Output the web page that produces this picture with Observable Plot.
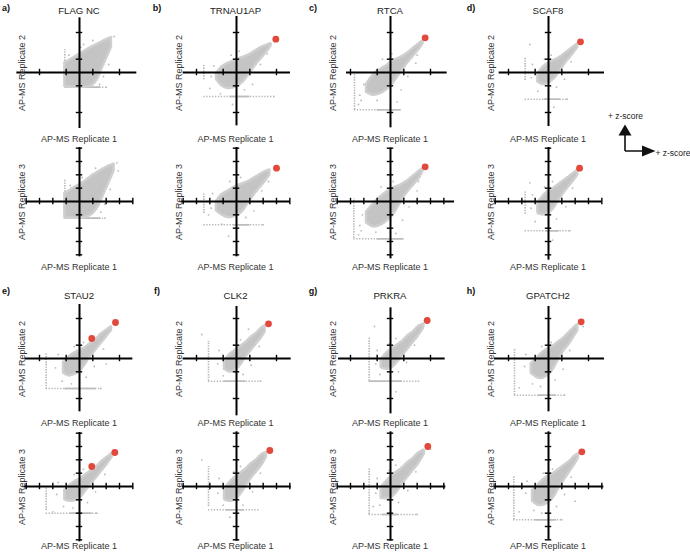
<!DOCTYPE html>
<html><head><meta charset="utf-8">
<script src="https://cdn.jsdelivr.net/npm/d3@7"></script>
<script src="https://cdn.jsdelivr.net/npm/@observablehq/plot@0.6"></script>
<style>
body{margin:0;background:#fff;}
#fig{position:relative;width:690px;height:554px;font-family:"Liberation Sans",Arial,Helvetica,sans-serif;overflow:hidden;background:#fff;}
.t{position:absolute;white-space:nowrap;color:#222;line-height:1;transform:translate(-50%,-50%);}
.panel{position:absolute;}
</style></head><body><div id="fig"></div>
<script>
// ---- labels ----
const proteins = ["FLAG NC","TRNAU1AP","RTCA","SCAF8","STAU2","CLK2","PRKRA","GPATCH2"];
const letters = ["a)","b)","c)","d)","e)","f)","g)","h)"];
const yAxisLabels = ["AP-MS Replicate 2","AP-MS Replicate 3"];
const xAxisLabel = "AP-MS Replicate 1";
const legendLabel = "+ z-score";
// ---- ticks (z-score units) ----
const ticksRep2 = [-3,-1,1,3];
const ticksRep3 = [-4,-3,-2,-1,1,2,3,4];
// panel order: a-rep2, a-rep3, b-rep2, b-rep3, ... h-rep3
// axis extents [xmin, xmax, ymin, ymax]
const axisExtents = [
 [-4.7,4.3,-4.2,4.1],[-4.0,4.05,-4.15,4.05],
 [-4.0,4.05,-4.0,4.2],[-4.15,4.05,-4.15,4.05],
 [-3.3,4.25,-4.15,4.2],[-4.0,4.8,-4.3,4.0],
 [-3.7,4.2,-4.05,4.2],[-4.05,4.0,-4.4,4.05],
 [-4.1,4.0,-4.0,4.05],[-4.15,4.05,-4.15,4.05],
 [-4.0,4.1,-4.3,3.9],[-4.05,4.1,-4.1,4.1],
 [-3.9,4.1,-4.15,3.8],[-3.95,4.15,-4.1,4.1],
 [-4.05,4.2,-4.0,3.9],[-4.1,4.15,-4.0,4.1]
];
// dense cloud outline: [x, lower y, upper y]
const cloudBands = [
 [[-1.1,-1.1,0.7],[-0.6,-1.1,1.0],[-0.1,-1.1,1.3],[0.4,-1.1,1.6],[0.9,-1.0,1.9],[1.3,-0.6,2.1],[1.7,0.3,2.3],[2.1,1.2,2.5],[2.4,1.9,2.6]],
 [[-1.1,-1.25,0.6],[-0.6,-1.25,0.9],[-0.1,-1.25,1.2],[0.4,-1.2,1.5],[0.9,-1.0,1.9],[1.4,-0.4,2.2],[1.9,0.7,2.5],[2.3,1.6,2.7],[2.6,2.3,2.8]],
 [[-1.5,-0.5,-0.1],[-1.1,-1.0,0.4],[-0.6,-1.2,0.7],[-0.1,-1.1,0.9],[0.4,-0.8,1.1],[0.9,-0.2,1.3],[1.4,0.5,1.6],[1.9,1.1,1.9],[2.4,1.7,2.1],[2.6,2.0,2.2]],
 [[-1.5,-0.7,0.0],[-1.1,-1.0,0.5],[-0.6,-1.2,0.8],[-0.1,-1.1,1.1],[0.4,-0.8,1.3],[0.9,-0.1,1.5],[1.4,0.6,1.8],[1.9,1.2,2.1],[2.3,1.7,2.3],[2.5,2.0,2.35]],
 [[-1.8,-1.5,-0.9],[-1.3,-1.7,-0.2],[-0.8,-1.6,0.2],[-0.3,-1.3,0.5],[0.2,-0.8,0.9],[0.7,-0.1,1.1],[1.2,0.6,1.4],[1.7,1.2,1.8],[2.2,1.8,2.2],[2.45,2.2,2.4]],
 [[-1.8,-1.6,-0.8],[-1.3,-1.9,-0.2],[-0.8,-1.8,0.3],[-0.3,-1.5,0.7],[0.2,-1.0,1.0],[0.7,-0.2,1.2],[1.2,0.6,1.5],[1.7,1.2,1.9],[2.2,1.8,2.3],[2.45,2.3,2.5]],
 [[-0.8,-0.7,-0.1],[-0.4,-0.9,0.4],[0.0,-0.8,0.7],[0.4,-0.5,0.9],[0.8,0.0,1.1],[1.2,0.6,1.4],[1.6,1.1,1.7],[2.0,1.6,2.0],[2.2,1.9,2.15]],
 [[-0.8,-0.9,-0.1],[-0.4,-1.0,0.4],[0.0,-0.9,0.8],[0.4,-0.5,1.0],[0.8,0.1,1.3],[1.2,0.7,1.6],[1.6,1.2,1.9],[2.0,1.7,2.2],[2.2,2.0,2.35]],
 [[-1.2,-1.1,-0.3],[-0.8,-1.3,0.1],[-0.4,-1.2,0.4],[0.0,-1.0,0.6],[0.4,-0.5,0.8],[0.8,0.1,1.1],[1.2,0.6,1.4],[1.6,1.1,1.8],[2.0,1.6,2.1],[2.4,2.1,2.4]],
 [[-1.1,-1.0,-0.3],[-0.7,-1.1,0.1],[-0.3,-1.05,0.4],[0.1,-0.8,0.6],[0.5,-0.3,0.9],[0.9,0.2,1.2],[1.3,0.7,1.5],[1.7,1.2,1.9],[2.1,1.7,2.2],[2.45,2.2,2.5]],
 [[-0.9,-0.8,-0.2],[-0.5,-1.0,0.3],[-0.1,-0.9,0.6],[0.3,-0.5,0.9],[0.7,0.1,1.2],[1.1,0.6,1.6],[1.5,1.1,1.9],[1.9,1.6,2.3],[2.15,2.0,2.45]],
 [[-0.9,-1.0,-0.2],[-0.5,-1.1,0.3],[-0.1,-1.0,0.7],[0.3,-0.6,1.0],[0.7,0.0,1.3],[1.1,0.6,1.7],[1.5,1.1,2.0],[1.9,1.6,2.4],[2.25,2.2,2.55]],
 [[-0.7,-0.7,-0.1],[-0.3,-0.8,0.4],[0.1,-0.7,0.7],[0.5,-0.3,1.0],[0.9,0.2,1.3],[1.3,0.7,1.7],[1.7,1.2,2.0],[2.1,1.7,2.4],[2.5,2.3,2.6]],
 [[-0.7,-0.9,-0.1],[-0.3,-0.9,0.4],[0.1,-0.8,0.8],[0.5,-0.4,1.1],[0.9,0.2,1.4],[1.3,0.7,1.8],[1.7,1.2,2.1],[2.1,1.7,2.5],[2.55,2.45,2.75]],
 [[-1.3,-1.1,-0.4],[-0.9,-1.4,0.0],[-0.5,-1.5,0.4],[-0.1,-1.3,0.7],[0.3,-0.9,0.9],[0.7,-0.2,1.2],[1.1,0.5,1.5],[1.5,1.0,1.9],[1.9,1.6,2.3],[2.2,2.1,2.55]],
 [[-1.2,-1.1,-0.3],[-0.8,-1.4,0.1],[-0.4,-1.4,0.5],[0.0,-1.2,0.8],[0.4,-0.8,1.0],[0.8,-0.1,1.3],[1.2,0.5,1.6],[1.6,1.1,1.9],[2.0,1.7,2.3],[2.25,2.15,2.45]]
];
// sparse preys outside the dense cloud: [x, y]
const sparsePoints = [
 [[-0.8,1.3],[0.1,1.9],[1.0,2.4],[2.6,2.7],[1.8,-0.3],[1.5,-0.9],[2.2,0.6],[-0.4,-0.8],[0.6,-0.5],[2.0,-1.1],[0.3,2.1]],
 [[-0.7,1.2],[0.2,1.8],[1.2,2.5],[2.8,2.9],[1.9,-0.2],[1.6,-0.8],[2.3,0.9],[-0.3,-0.9],[0.7,-0.6],[1.9,-1.25],[2.9,2.3]],
 [[-1.9,-0.3],[-1.7,0.5],[0.6,-1.3],[1.2,-0.9],[-0.4,1.3],[0.2,1.6],[1.8,0.6],[2.3,1.4],[-2.0,-1.2],[-1.2,-1.6],[2.8,-1.8],[-0.3,-2.4]],
 [[-1.9,-0.5],[-1.8,0.6],[0.7,-1.2],[1.3,-0.7],[-0.5,1.5],[0.3,1.8],[1.9,0.8],[2.4,1.5],[-2.1,-1.0],[-1.1,-1.7],[2.0,-1.75],[-0.6,-2.6]],
 [[-2.2,-2.1],[-2.4,-2.4],[-2.0,-0.9],[-1.0,-2.1],[0.8,-1.3],[1.3,-0.3],[-0.6,1.0],[0.1,1.4],[1.9,0.7],[2.0,1.3],[-2.3,-1.7],[0.5,-2.2]],
 [[-2.2,-2.2],[-2.4,-2.5],[-2.1,-1.0],[-1.1,-2.3],[0.9,-1.4],[1.4,-0.4],[-0.7,1.1],[0.2,1.5],[2.0,0.8],[2.1,1.5],[-2.3,-1.8],[0.4,-2.4]],
 [[-1.3,-0.4],[-1.2,0.6],[0.6,-1.1],[1.2,-0.5],[-0.3,1.0],[0.2,1.3],[1.7,0.8],[-1.4,2.1],[-0.8,-1.4],[1.4,-2.0],[0.4,-2.6]],
 [[-1.3,-0.5],[-1.2,0.5],[0.6,-1.3],[1.3,-0.4],[-0.3,1.1],[0.3,1.5],[1.8,1.0],[-1.0,-1.5],[1.6,-2.2],[0.3,-2.9],[-1.4,1.4]],
 [[-1.8,-0.7],[-1.6,0.3],[0.5,-1.4],[1.1,-0.6],[-0.4,0.9],[0.3,1.2],[1.8,0.7],[-1.3,-1.7],[-0.6,-1.9],[1.6,-2.25],[2.0,-0.4]],
 [[-1.7,-0.6],[-1.6,0.3],[0.6,-1.2],[1.2,-0.4],[-0.4,0.9],[0.3,1.3],[1.9,0.9],[-1.2,-1.5],[-0.5,-1.6],[1.3,-2.0],[-2.0,-1.9]],
 [[-1.4,-0.4],[-1.3,0.6],[0.5,-1.2],[1.1,-0.5],[-0.2,1.0],[0.3,1.4],[1.7,0.9],[-1.0,-1.3],[-2.6,1.8],[0.9,2.2],[1.8,-1.7]],
 [[-1.4,-0.5],[-1.3,0.6],[0.5,-1.4],[1.2,-0.4],[-0.2,1.1],[0.3,1.5],[1.8,1.0],[-1.0,-1.4],[-2.6,2.0],[1.6,-1.75],[-0.5,-2.3]],
 [[-1.1,-0.4],[-1.0,0.6],[0.6,-1.0],[1.2,-0.3],[-0.1,1.1],[0.4,1.5],[1.8,1.0],[-0.8,-1.2],[2.1,-1.7],[-1.2,2.4],[0.4,-2.5]],
 [[-1.1,-0.5],[-1.0,0.6],[0.6,-1.2],[1.3,-0.3],[-0.1,1.2],[0.4,1.6],[1.9,1.1],[-0.8,-1.4],[2.0,-2.1],[-1.3,-1.5],[3.0,2.8]],
 [[-1.8,-0.6],[-1.7,0.3],[0.5,-1.6],[1.1,-0.8],[-0.5,0.9],[0.2,1.2],[1.6,0.6],[-1.2,-1.9],[-0.6,-2.1],[-2.2,-2.2],[1.2,-2.75],[2.6,2.4]],
 [[-1.7,-0.5],[-1.6,0.4],[0.6,-1.5],[1.2,-0.6],[-0.4,1.0],[0.3,1.3],[1.7,0.7],[-1.1,-1.8],[-0.5,-2.0],[-2.2,-1.9],[1.0,-2.5],[2.0,-1.1]]
];
// vertical streak of preys at a floor value of replicate 1: [x, y1, y2]
const verticalStreaks = [
 [-1.1,-1.1,1.7],[-1.1,-1.25,1.6],[-2.45,-0.55,0.6],[-2.45,-0.9,0.6],
 [-2.7,-2.8,0.1],[-2.75,-2.75,0.2],[-1.75,-0.6,1.1],[-1.75,-0.95,0.8],
 [-2.5,-2.3,0.4],[-2.5,-1.8,0.0],[-2.1,-1.7,1.3],[-2.1,-1.5,1.5],
 [-1.6,-1.7,1.55],[-1.6,-2.1,1.4],[-2.55,-2.75,0.75],[-2.6,-2.5,0.75]
];
// horizontal streak of preys at a floor value of the other replicate: [y, x1, x2]
const horizontalStreaks = [
 [-1.1,-1.1,2.0],[-1.25,-1.1,1.8],[-1.8,-2.45,2.8],[-1.75,-2.45,2.0],
 [-2.8,-2.7,0.8],[-2.8,-2.75,1.0],[-2.0,-1.75,1.4],[-2.2,-1.75,1.6],
 [-2.25,-2.5,1.6],[-2.0,-2.5,1.3],[-1.7,-2.1,1.8],[-1.75,-2.1,1.6],
 [-1.7,-1.6,2.1],[-2.1,-1.6,2.0],[-2.75,-2.55,1.2],[-2.5,-2.6,1.0]
];
// denser part of the horizontal streak: [y, x1, x2]
const horizontalDense = [
 [-1.1,-0.9,1.6],[-1.25,-0.9,1.6],[-1.8,-0.5,1.0],[-1.75,-0.2,1.0],
 [-2.8,-1.0,0.8],[-2.8,-1.0,1.0],[-2.0,-0.3,0.9],[-2.2,-0.2,0.8],
 [-2.25,-1.1,1.25],[-2.0,-0.7,0.95],[-1.7,-0.9,0.7],[-1.75,-0.8,0.6],
 [-1.7,-1.5,0.9],[-2.1,-0.6,0.6],[-2.75,-0.8,0.6],[-2.5,-1.0,0.6]
];
// bait / top interactor(s) in red
const redHits = [
 [],[],
 [[2.95,2.5]],[[3.0,2.5]],
 [[2.6,2.6]],[[2.6,2.6]],
 [[2.4,2.3]],[[2.33,2.5]],
 [[2.7,2.7],[0.92,1.5]],[[2.65,2.55],[0.92,1.5]],
 [[2.4,2.6]],[[2.5,2.7]],
 [[2.75,2.85]],[[2.8,3.0]],
 [[2.45,2.75]],[[2.5,2.6]]
];
// ---- layout (pixels) ----
const colCenters = [79, 235.5, 390, 548];
const rowCenters = [72, 200.7, 357.5, 486];
const xLabelRows = [139.3, 266.5, 422.5, 546];
const letterRows = [8, 291];
const titleRows = [10.5, 296];
const letterCols = [6, 157, 313, 471];

const fig = document.getElementById("fig");
function addText(txt, x, y, css, rot) {
  const d = document.createElement("div");
  d.className = "t";
  d.textContent = txt;
  d.style.left = x + "px"; d.style.top = y + "px";
  d.style.cssText += css;
  if (rot) d.style.transform = "translate(-50%,-50%) rotate(-90deg)";
  fig.appendChild(d);
}

const SIZE = 140, HALF = 5.25;
const gray = "#c4c4c4";

proteins.forEach((name, p) => {
  const col = p % 4, block = Math.floor(p / 4);
  const cx = colCenters[col];
  addText(letters[p], letterCols[col], letterRows[block], "font-size:9px;font-weight:bold;color:#111;");
  addText(name, cx, titleRows[block], "font-size:9.6px;color:#222;");
  for (let r = 0; r < 2; r++) {
    const i = p * 2 + r;
    const row = block * 2 + r;
    const cy = rowCenters[row];
    const ext = axisExtents[i];
    const ticks = (r === 0 ? ticksRep2 : ticksRep3);
    const tx = ticks.filter(t => t >= ext[0] - 0.05 && t <= ext[1] + 0.05);
    const ty = ticks.filter(t => t >= ext[2] - 0.05 && t <= ext[3] + 0.05);
    const svg = Plot.plot({
      width: SIZE, height: SIZE, margin: 0,
      x: {domain: [-HALF, HALF], axis: null},
      y: {domain: [-HALF, HALF], axis: null},
      style: {background: "transparent", overflow: "visible"},
      marks: [
        Plot.ruleX([verticalStreaks[i]], {x: d => d[0], y1: d => d[1], y2: d => d[2], stroke: "#b5b5b5", strokeWidth: 1.6, strokeDasharray: "1.4,1.2"}),
        Plot.ruleY([horizontalStreaks[i]], {y: d => d[0], x1: d => d[1], x2: d => d[2], stroke: "#b5b5b5", strokeWidth: 1.5, strokeDasharray: "1.3,1.6"}),
        Plot.ruleY([horizontalDense[i]], {y: d => d[0], x1: d => d[1], x2: d => d[2], stroke: "#bdbdbd", strokeWidth: 1.7}),
        Plot.areaY(cloudBands[i], {x: d => d[0], y1: d => d[1], y2: d => d[2], fill: gray, stroke: "#cfcfcf", strokeWidth: 2.6, strokeDasharray: "1,1.8", curve: "catmull-rom"}),
        Plot.dot(sparsePoints[i], {x: d => d[0], y: d => d[1], r: 0.9, fill: "#bcbcbc"}),
        Plot.ruleY([0], {x1: ext[0], x2: ext[1], stroke: "#000", strokeWidth: 2}),
        Plot.ruleX([0], {y1: ext[2], y2: ext[3], stroke: "#000", strokeWidth: 2}),
        Plot.ruleX(tx, {y1: -0.24, y2: 0.24, stroke: "#000", strokeWidth: 1.4}),
        Plot.ruleY(ty, {x1: -0.24, x2: 0.24, stroke: "#000", strokeWidth: 1.4}),
        Plot.dot(redHits[i], {x: d => d[0], y: d => d[1], r: 3.4, fill: "#e2483b"})
      ]
    });
    const holder = document.createElement("div");
    holder.className = "panel";
    holder.style.left = (cx - SIZE / 2) + "px";
    holder.style.top = (cy - SIZE / 2) + "px";
    holder.appendChild(svg);
    fig.appendChild(holder);
    addText(yAxisLabels[r], cx - 57, cy + 1, "font-size:9px;color:#333;", true);
    addText(xAxisLabel, cx, xLabelRows[row], "font-size:9px;color:#333;");
  }
});

// ---- direction legend ----
const ns = "http://www.w3.org/2000/svg";
const lg = document.createElementNS(ns, "svg");
lg.setAttribute("width", 690); lg.setAttribute("height", 554);
lg.style.position = "absolute"; lg.style.left = "0"; lg.style.top = "0";
lg.innerHTML = '<path d="M625,151 V134 M625,151 H643" stroke="#111" stroke-width="1.6" fill="none"/>' +
  '<polygon points="625,124.5 618.5,135.5 631.5,135.5" fill="#111"/>' +
  '<polygon points="655.5,151 642,145.5 642,156.5" fill="#111"/>';
fig.appendChild(lg);
addText(legendLabel, 625.5, 116, "font-size:8.5px;color:#222;");
addText(legendLabel, 673, 152.5, "font-size:8.5px;color:#222;");
</script></body></html>
